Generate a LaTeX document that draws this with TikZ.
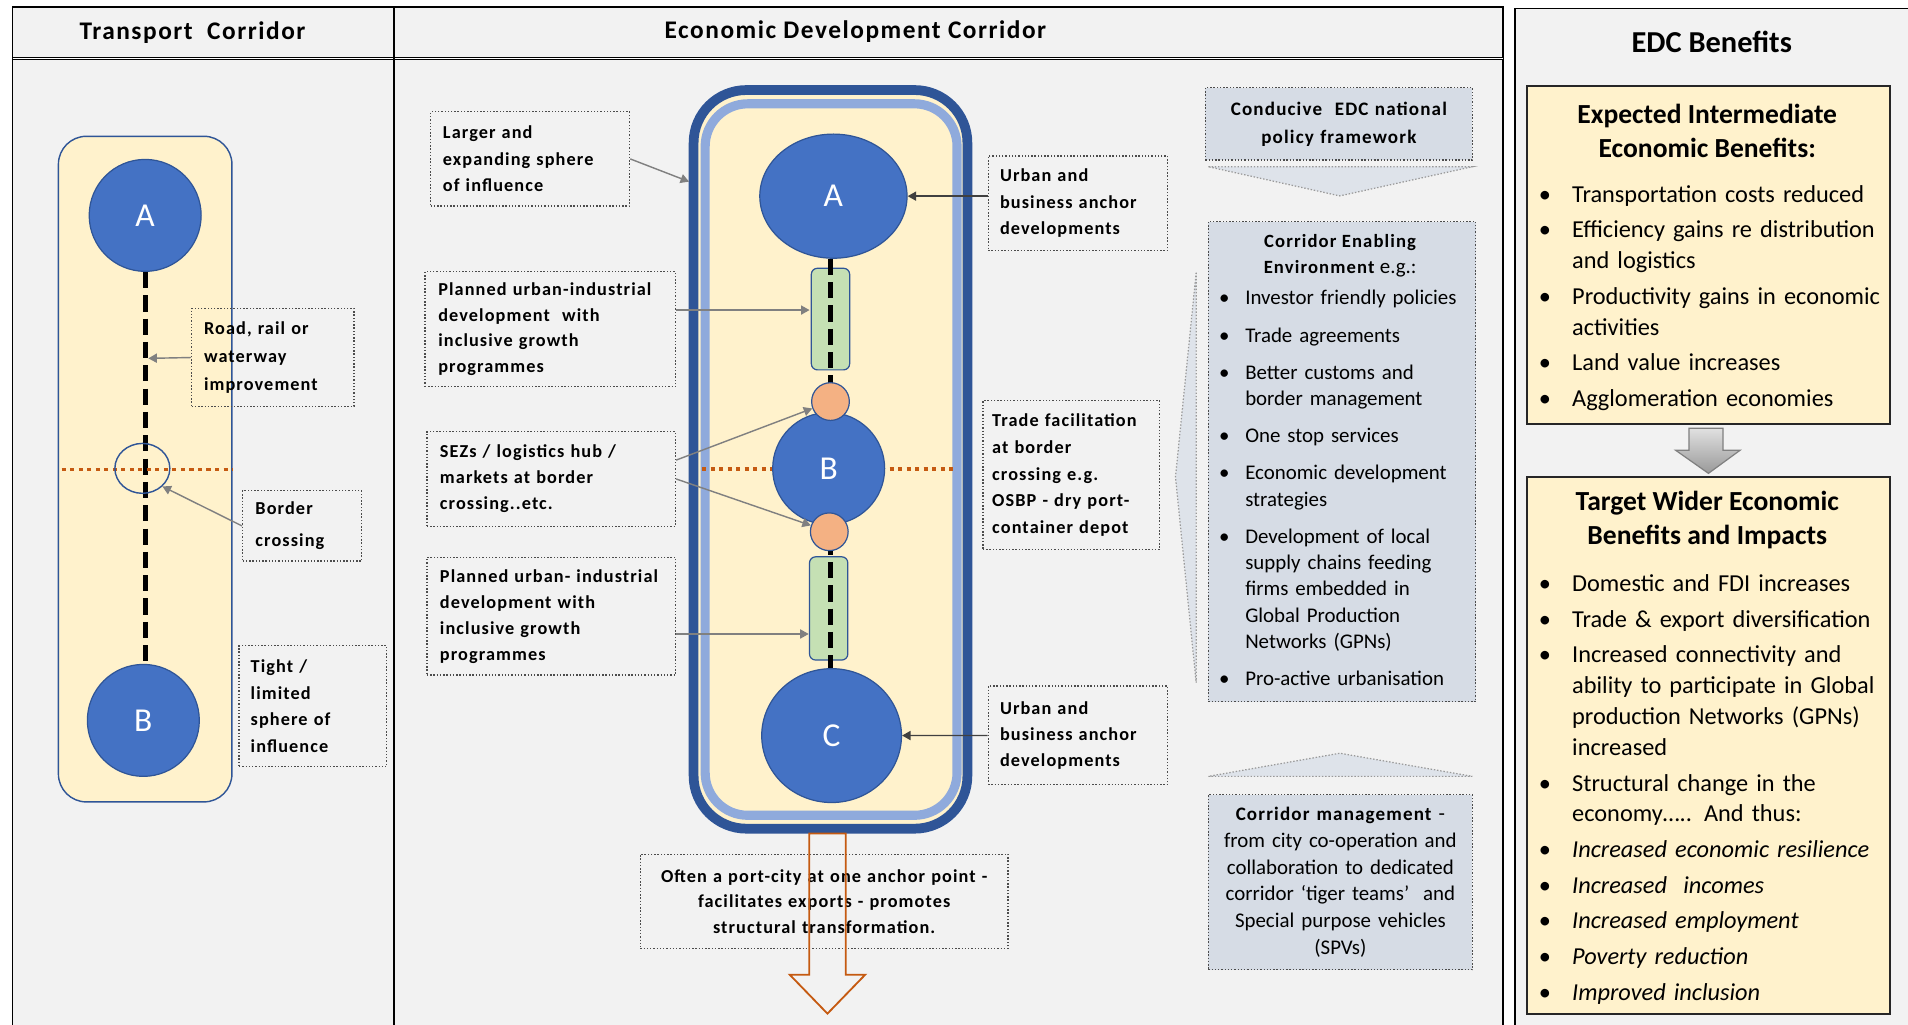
\documentclass[tikz,border=0pt]{standalone}
\usepackage{fontspec}
\setmainfont{Carlito}
\newfontfamily\notefont{Carlito}[LetterSpace=6]
\usepackage{enumitem}
\setlist[itemize]{label=\textbullet, topsep=0pt, partopsep=0pt, parsep=0pt,
  itemsep=2.4pt, leftmargin=15.4pt, labelsep=10.4pt}
\usetikzlibrary{shapes.geometric,arrows.meta}
\definecolor{PanelGray}{HTML}{F2F2F2}
\definecolor{Cream}{HTML}{FFF2CC}
\definecolor{Navy}{HTML}{2F5597}
\definecolor{TownBlue}{HTML}{4472C4}
\definecolor{PaleBlue}{HTML}{8FAADC}
\definecolor{ZoneGreen}{HTML}{C5E0B4}
\definecolor{HubPeach}{HTML}{F4B183}
\definecolor{Rust}{HTML}{C55A11}
\definecolor{Slate}{HTML}{D6DCE5}

\begin{document}
\begin{tikzpicture}[x=0.6pt, y=-0.6pt]
  \tikzset{
  FrameStyle/.style = {
  draw = black,
  line width = 0.8pt,
  fill = PanelGray},
  HeadStyle/.style = {
  inner sep = 0pt,
  font = \notefont\bfseries\fontsize{12.5}{15}\selectfont},
  TownStyle/.style = {
  shape = ellipse,
  fill = TownBlue,
  draw = Navy,
  line width = 0.6pt,
  inner sep = 0pt,
  text = white,
  font = \fontsize{16.5}{20}\selectfont},
  HubStyle/.style = {
  shape = circle,
  fill = HubPeach,
  draw = Navy,
  line width = 0.6pt,
  inner sep = 0pt,
  minimum size = 18.6pt},
  ZoneStyle/.style = {
  shape = rectangle,
  rounded corners = 3pt,
  fill = ZoneGreen,
  draw = Navy,
  line width = 0.6pt,
  inner sep = 0pt,
  minimum width = 18.9pt},
  RouteStyle/.style = {
  line width = 2.5pt,
  dash pattern = on 8pt off 3.5pt},
  BorderStyle/.style = {
  draw = Rust,
  line width = 1.6pt,
  dash pattern = on 2pt off 2.2pt},
  NoteStyle/.style = {
  draw = black!70,
  line width = 0.6pt,
  dash pattern = on 0.7pt off 0.9pt,
  inner sep = 0pt,
  align = left,
  font = \notefont\bfseries\fontsize{9}{13}\selectfont},
  PolicyStyle/.style = {
  NoteStyle,
  fill = Slate,
  font = \notefont\bfseries\fontsize{9.4}{13.8}\selectfont},
  FunnelStyle/.style = {
  draw = black!40,
  fill = Slate!80,
  line width = 0.6pt,
  dash pattern = on 0.7pt off 0.9pt},
  PointerStyle/.style = {
  draw = black!50,
  line width = 0.7pt,
  -{Triangle[length = 4.2pt, width = 4.5pt]}},
  AnchorPointerStyle/.style = {
  PointerStyle,
  draw = black!75},
  BenefitBox/.style = {
  draw = black!85,
  fill = Cream,
  line width = 1pt,
  inner sep = 0pt},
  BenefitTitle/.style = {
  align = center,
  inner sep = 0pt,
  font = \bfseries\fontsize{13.6}{16.8}\selectfont},
  BenefitList/.style = {
  anchor = north west,
  inner sep = 0pt,
  text width = 169pt,
  align = left,
  font = \fontsize{12}{15.2}\selectfont}}

  \fill[white] (0,0) rectangle (1568,842);
  \useasboundingbox (0,0) rectangle (1568,842);
  \draw[FrameStyle] (10.4,5.5) rectangle (1235,870);
  \draw[double, line width = 0.45pt, double distance = 0.7pt] (10.4,48.3) -- (1235,48.3);
  \draw[line width = 0.8pt] (324,5.5) -- (324,870);
  \draw[FrameStyle] (1245,7) rectangle (1590,870);
  \node[HeadStyle] (trhead) at (158.2,26.6) {Transport\ \ Corridor};
  \node[HeadStyle] (edchead) at (703,26) {Economic Development Corridor};

  \begin{scope}
    \draw[draw = Navy, line width = 0.7pt, fill = Cream, rounded corners = 13.8pt] (48,112) rectangle (190.6,659);
    \node[TownStyle, minimum width = 55.2pt, minimum height = 55.2pt] (tA) at (119.3,177) {A};
    \node[TownStyle, minimum width = 55.2pt, minimum height = 55.2pt] (tB) at (117.8,592) {B};
    \draw[RouteStyle] (tA.south) -- (tA.south |- tB.north);
    \draw[BorderStyle] (50.7,385.7) -- (191,385.7);
    \node[shape = ellipse, draw = Navy, line width = 0.7pt, inner sep = 0pt,
      minimum width = 27.1pt, minimum height = 24.6pt] (bx) at (117,384.9) {};
    \node[NoteStyle, minimum width = 80pt, minimum height = 48.5pt, text width = 67.8pt,
      font = \notefont\bfseries\fontsize{9}{14}\selectfont] (road) at (224.2,293.8) {Road, rail or\\waterway\\improvement};
    \node[NoteStyle, minimum width = 58.7pt, minimum height = 34.6pt, text width = 46pt,
      font = \notefont\bfseries\fontsize{9}{15.6}\selectfont] (border) at (248.3,432.2) {Border\\crossing};
    \node[NoteStyle, minimum width = 72.8pt, minimum height = 59.6pt, text width = 61.3pt] (tight) at (257.1,580.3) {Tight /\\limited\\sphere of\\influence};
    \coordinate (roadtip) at (121.9,294.5);
    \draw[PointerStyle] (road.west) -- (roadtip);
    \draw[PointerStyle] (border.west) -- (bx.-42);
  \end{scope}

  \begin{scope}
    \draw[draw = Navy, line width = 4.8pt, fill = Cream, rounded corners = 26pt] (570,74) rectangle (795,681);
    \draw[draw = PaleBlue, line width = 4.5pt, rounded corners = 21pt] (579.5,85.3) rectangle (786.5,670);
    \node[ZoneStyle, minimum height = 50.1pt] (g1) at (682.5,262.2) {};
    \node[ZoneStyle, minimum height = 50.9pt] (g2) at (681,500) {};
    \node[TownStyle, minimum width = 72.6pt, minimum height = 61.2pt] (mA) at (684.9,161.2) {A};
    \node[TownStyle, minimum width = 68.9pt, minimum height = 66pt] (mC) at (683.4,604.5) {C};
    \draw[RouteStyle] (g1 |- mA.south) -- (g1 |- mC.north);
    \draw[BorderStyle] (577,385.5) -- (785,385.5);
    \node[TownStyle, minimum width = 55.2pt, minimum height = 55.2pt] (mB) at (681,385) {B};
    \node[HubStyle] (o1) at (682.5,330) {};
    \node[HubStyle] (o2) at (681.5,437) {};
    \node[NoteStyle, minimum width = 98.1pt, minimum height = 46.5pt, text width = 86pt] (larger) at (435.7,130.6) {Larger and\\expanding sphere\\of influence};
    \node[NoteStyle, minimum width = 123.6pt, minimum height = 56.7pt, text width = 110.4pt,
      font = \notefont\bfseries\fontsize{9}{12.6}\selectfont] (plan1) at (452.2,270.6) {Planned urban-industrial\\development\ \ with\\inclusive growth\\programmes};
    \node[NoteStyle, minimum width = 122.6pt, minimum height = 46.5pt, text width = 109.7pt,
      font = \notefont\bfseries\fontsize{9}{12.8}\selectfont] (sez) at (453,393.6) {SEZs / logistics hub /\\markets at border\\crossing..etc.};
    \node[NoteStyle, minimum width = 122.6pt, minimum height = 58pt, text width = 109.7pt,
      font = \notefont\bfseries\fontsize{9}{12.8}\selectfont] (plan2) at (453,506.4) {Planned urban- industrial\\development with\\inclusive growth\\programmes};
    \node[NoteStyle, minimum width = 88.4pt, minimum height = 46.7pt, text width = 76.8pt] (urbA) at (885.8,167.1) {Urban and\\business anchor\\developments};
    \node[NoteStyle, minimum width = 87.2pt, minimum height = 73.3pt, text width = 78pt,
      font = \notefont\bfseries\fontsize{9}{13.2}\selectfont] (trade) at (880.4,390.4) {Trade facilitation\\at border\\crossing e.g.\\OSBP - dry port-\\container depot};
    \node[NoteStyle, minimum width = 88.4pt, minimum height = 48.7pt, text width = 76.8pt] (urbC) at (885.8,604.4) {Urban and\\business anchor\\developments};
    \node[NoteStyle, minimum width = 181.3pt, minimum height = 46.5pt, text width = 175pt, align = center,
      font = \notefont\bfseries\fontsize{9}{12.6}\selectfont] (often) at (677.3,740.7) {Often a port-city at one anchor point -\\facilitates exports - promotes\\structural transformation.};
    \draw[draw = Rust, line width = 0.9pt] (665,685) -- (695,685) -- (695,801) -- (711,801) -- (680,833) -- (649,801) -- (665,801) -- cycle;
    \coordinate (corrtip) at (566.3,149.3);
    \coordinate (zone1tip) at (665.3,254.8);
    \coordinate (zone2tip) at (664.6,521);
    \draw[PointerStyle] (larger.east) -- (corrtip);
    \draw[PointerStyle] (plan1.east |- zone1tip) -- (zone1tip);
    \draw[PointerStyle] ([yshift = 9.3pt]sez.east) -- (o1);
    \draw[PointerStyle] (sez.east) -- (o2);
    \draw[PointerStyle] (plan2.east |- zone2tip) -- (zone2tip);
    \draw[AnchorPointerStyle] (urbA.west |- mA) -- (mA);
    \draw[AnchorPointerStyle] (urbC.west) -- (mC);
  \end{scope}

  \begin{scope}
    \node[PolicyStyle, minimum width = 131.7pt, minimum height = 35.7pt, text width = 125pt, align = center] (cond) at (1100.3,101.8) {Conducive\ \ EDC national\\policy framework};
    \draw[FunnelStyle] (993,137) -- (1210,137) -- (1101,161) -- cycle;
    \draw[FunnelStyle] (983,224) -- (966,392) -- (983,561) -- cycle;
    \node[PolicyStyle, minimum width = 131.9pt, minimum height = 236.8pt] (enab) at (1102.9,379.4) {};
    \node[inner sep = 0pt, align = center, font = \notefont\bfseries\fontsize{9.2}{12.8}\selectfont] (enabt) at (1101.3,210.5) {Corridor Enabling\\Environment {\normalfont\fontsize{10.3}{12.8}\selectfont e.g.:}};
    \node[anchor = north west, inner sep = 0pt, text width = 125pt, align = left,
      font = \fontsize{10.3}{13}\selectfont] (enabl) at (1001,228.6) {\begin{itemize}[leftmargin = 13.2pt, labelsep = 7.8pt, itemsep = 5.3pt]
      \item Investor friendly policies
      \item Trade agreements
      \item Better customs and\\border management
      \item One stop services
      \item Economic development\\strategies
      \item Development of local\\supply chains feeding\\firms embedded in\\Global Production\\Networks (GPNs)
      \item Pro-active urbanisation
    \end{itemize}};
    \draw[FunnelStyle] (993,638) -- (1210,638) -- (1101,619) -- cycle;
    \node[PolicyStyle, minimum width = 130.2pt, minimum height = 86.4pt, text width = 124pt, align = center,
      font = \fontsize{10.3}{13.2}\selectfont] (mgmt) at (1101.5,725) {{\notefont\bfseries\fontsize{9.4}{13.2}\selectfont Corridor management} -\\from city co-operation and\\collaboration to dedicated\\corridor ‘tiger teams’\ \ and\\Special purpose vehicles\\(SPVs)};
  \end{scope}

  \begin{scope}
    \node[inner sep = 0pt, font = \bfseries\fontsize{15}{18}\selectfont] (benhead) at (1406.7,34.3) {EDC Benefits};
    \node[BenefitBox, minimum width = 178.8pt, minimum height = 166.7pt] (ben1) at (1404,209.6) {};
    \node[BenefitTitle] (ben1t) at (1403,107.5) {Expected Intermediate\\Economic Benefits:};
    \node[BenefitList] (ben1l) at (1266,140.5) {\begin{itemize}
      \item Transportation costs reduced
      \item Efficiency gains re distribution\\and logistics
      \item Productivity gains in economic\\activities
      \item Land value increases
      \item Agglomeration economies
    \end{itemize}};
    \draw[draw = black!50, top color = black!12, bottom color = black!40, line width = 0.6pt]
      (1388,352) -- (1416,352) -- (1416,370) -- (1430,370) -- (1404,389) -- (1377,370) -- (1388,370) -- cycle;
    \node[BenefitBox, minimum width = 178.8pt, minimum height = 264.6pt] (ben2) at (1404,612.5) {};
    \node[BenefitTitle] (ben2t) at (1403,427.7) {Target Wider Economic\\Benefits and Impacts};
    \node[BenefitList] (ben2l) at (1266,460.4) {\begin{itemize}
      \item Domestic and FDI increases
      \item Trade \& export diversification
      \item Increased connectivity and\\ability to participate in Global\\production Networks (GPNs)\\increased
      \item Structural change in the\\economy….. And thus:
      \item \textit{Increased economic resilience}
      \item \textit{Increased\ \ incomes}
      \item \textit{Increased employment}
      \item \textit{Poverty reduction}
      \item \textit{Improved inclusion}
    \end{itemize}};
  \end{scope}
\end{tikzpicture}
\end{document}
